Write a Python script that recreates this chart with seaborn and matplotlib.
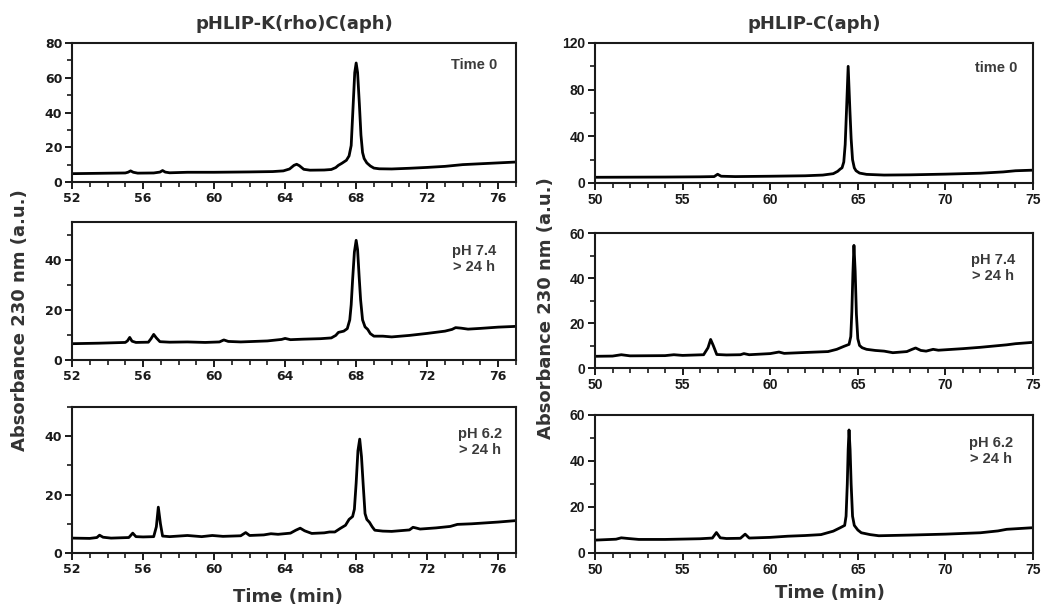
import matplotlib
matplotlib.use('Agg')
import matplotlib.pyplot as plt
import seaborn as sns
from matplotlib.ticker import MultipleLocator

# HPLC traces (time in min, absorbance in a.u.)
k_t0_time = [52, 53.5, 55.0, 55.15, 55.3, 55.45, 55.7, 56.6, 56.95, 57.1, 57.25, 57.5, 58.5, 60, 62,
             63.3, 63.9, 64.25, 64.5, 64.65, 64.8, 65.05, 65.4, 66.2, 66.6, 66.85, 67.0, 67.2, 67.45,
             67.6, 67.72, 67.82, 67.92, 68.0, 68.08, 68.18, 68.27, 68.36, 68.45, 68.6, 68.8, 69.0,
             69.3, 70.0, 71.0, 72.0, 73.0, 74.0, 75.0, 76.0, 77.0]
k_t0_abs = [4.8, 5.0, 5.2, 5.6, 6.4, 5.6, 5.1, 5.2, 5.7, 6.6, 5.7, 5.3, 5.6, 5.6, 5.8,
            6.0, 6.4, 7.5, 9.6, 10.2, 9.4, 7.3, 6.8, 6.9, 7.2, 8.3, 9.6, 10.8, 12.5,
            15, 21, 42, 63, 68.5, 63, 45, 27, 17, 13.5, 11, 9.2, 8.0,
            7.6, 7.5, 7.9, 8.4, 9.0, 10.0, 10.5, 11.0, 11.5]

k_74_time = [52, 53.5, 55.0, 55.12, 55.25, 55.38, 55.6, 56.3, 56.45, 56.6, 56.75, 56.95, 57.5, 58.5,
             59.5, 60.3, 60.55, 60.8, 61.5, 63.0, 63.8, 64.0, 64.3, 65.0, 66.0, 66.6, 66.85, 67.0,
             67.3, 67.5, 67.64, 67.72, 67.8, 67.9, 68.0, 68.08, 68.17, 68.25, 68.36, 68.5, 68.65,
             68.8, 69.0, 69.5, 70.0, 71.0, 72.0, 73.0, 73.4, 73.6, 73.9, 74.3, 75.0, 76.0, 77.0]
k_74_abs = [6.5, 6.7, 7.0, 7.6, 9.0, 7.5, 7.0, 7.1, 8.5, 10.2, 8.8, 7.3, 7.1, 7.2,
            7.0, 7.2, 8.0, 7.4, 7.2, 7.6, 8.2, 8.6, 8.1, 8.3, 8.5, 8.8, 9.8, 11.0,
            11.5, 12.5, 16, 22, 32, 43, 47.7, 44, 33, 24, 16, 13.2, 12.2,
            10.5, 9.5, 9.5, 9.2, 9.8, 10.6, 11.5, 12.2, 12.9, 12.7, 12.3, 12.6, 13.1, 13.4]

k_62_time = [52, 53.0, 53.4, 53.55, 53.75, 54.2, 55.2, 55.42, 55.6, 56.0, 56.6, 56.75, 56.86, 56.98,
             57.1, 57.5, 58.5, 59.3, 59.9, 60.5, 61.5, 61.78, 62.0, 62.8, 63.2, 63.6, 64.3, 64.6,
             64.85, 65.1, 65.5, 66.2, 66.5, 66.8, 67.1, 67.4, 67.6, 67.8, 67.9, 68.0, 68.1, 68.2,
             68.3, 68.4, 68.5, 68.6, 68.75, 68.9, 69.05, 69.5, 70.0, 71.0, 71.2, 71.35, 71.6, 72.5,
             73.3, 73.7, 74.5, 76.0, 77.0]
k_62_abs = [5.1, 5.0, 5.3, 6.1, 5.4, 5.1, 5.3, 6.8, 5.6, 5.5, 5.6, 9.0, 15.7, 10.0,
            5.8, 5.6, 6.0, 5.6, 6.0, 5.7, 5.9, 7.0, 6.0, 6.2, 6.6, 6.4, 6.8, 7.8,
            8.5, 7.6, 6.7, 6.9, 7.2, 7.2, 8.4, 9.5, 11.5, 12.5, 15, 24, 35, 39,
            33, 23, 13.5, 11.5, 10.5, 9.0, 7.8, 7.5, 7.4, 7.9, 8.8, 8.6, 8.2, 8.6,
            9.1, 9.8, 10.0, 10.6, 11.1]

c_t0_time = [50, 52, 54, 56, 56.8, 57.0, 57.2, 58.0, 60.0, 62.0, 63.0, 63.6, 63.85, 64.0, 64.1,
             64.2, 64.28, 64.35, 64.45, 64.55, 64.62, 64.7, 64.8, 64.9, 65.1, 65.5, 66.5, 68.0,
             70.0, 72.0, 73.3, 74.0, 75.0]
c_t0_abs = [4.9, 5.0, 5.1, 5.3, 5.5, 7.5, 5.8, 5.5, 5.8, 6.2, 6.8, 8.0, 10.0, 12.0, 13,
            18, 33, 60, 100, 62, 38, 20, 13, 10.5, 8.5, 7.4, 6.8, 7.0,
            7.6, 8.4, 9.5, 10.5, 11.0]

c_74_time = [50, 51.0, 51.5, 52.0, 54.0, 54.5, 55.0, 56.2, 56.45, 56.6, 56.75, 56.95, 57.5, 58.3,
             58.5, 58.8, 60.0, 60.5, 60.8, 62.0, 63.3, 63.8, 64.2, 64.5, 64.6, 64.66, 64.72, 64.78,
             64.85, 64.92, 65.0, 65.1, 65.25, 65.5, 66.0, 66.5, 67.0, 67.8, 68.1, 68.3, 68.6, 68.9,
             69.3, 69.6, 71.0, 72.0, 73.5, 74.0, 75.0]
c_74_abs = [5.2, 5.3, 5.9, 5.4, 5.5, 5.9, 5.6, 5.9, 9.0, 12.7, 10.0, 6.0, 5.8, 5.9,
            6.4, 5.9, 6.4, 7.1, 6.5, 6.9, 7.3, 8.3, 9.6, 10.5, 14, 25, 42, 54.5,
            43, 24, 13, 10, 9.0, 8.3, 7.8, 7.5, 6.8, 7.3, 8.3, 8.9, 7.8, 7.5,
            8.3, 7.9, 8.6, 9.2, 10.3, 10.8, 11.4]

c_62_time = [50, 51.2, 51.5, 51.9, 52.5, 54.0, 56.0, 56.7, 56.93, 57.15, 57.5, 58.3, 58.57, 58.8,
             60.0, 61.0, 62.0, 62.9, 63.6, 64.0, 64.25, 64.33, 64.4, 64.45, 64.5, 64.56, 64.62,
             64.7, 64.8, 65.0, 65.2, 65.7, 66.2, 68.0, 70.0, 72.0, 73.0, 73.5, 75.0]
c_62_abs = [5.6, 6.0, 6.6, 6.3, 5.9, 5.9, 6.2, 6.5, 8.9, 6.6, 6.3, 6.4, 8.2, 6.5,
            6.8, 7.3, 7.6, 8.0, 9.5, 11, 12, 16, 30, 45, 53.5, 45, 30,
            16, 12, 10, 8.8, 8.0, 7.5, 7.8, 8.2, 8.8, 9.6, 10.3, 11.0]

titles = ['pHLIP-K(rho)C(aph)', 'pHLIP-C(aph)']
left_notes = ['Time 0', 'pH 7.4\n> 24 h', 'pH 6.2\n> 24 h']
right_notes = ['time 0', 'pH 7.4\n> 24 h', 'pH 6.2\n> 24 h']

sns.set_style('ticks')
plt.rcParams['font.family'] = 'DejaVu Sans'
plt.rcParams['font.weight'] = 'bold'
plt.rcParams['axes.linewidth'] = 1.5
plt.rcParams['axes.edgecolor'] = '#1a1a1a'

W, H = 1053, 609
fig = plt.figure(figsize=(W / 100, H / 100), dpi=100)


def box(x0, x1, top, bottom):
    # pixel box -> figure fraction
    return [x0 / W, 1 - bottom / H, (x1 - x0) / W, (bottom - top) / H]


left_boxes = [box(72, 516, 43, 182), box(72, 516, 222, 360), box(72, 516, 407, 553)]
right_boxes = [box(595, 1033, 43, 183), box(595, 1033, 233, 368), box(595, 1033, 415, 553)]

left_data = [(k_t0_time, k_t0_abs), (k_74_time, k_74_abs), (k_62_time, k_62_abs)]
right_data = [(c_t0_time, c_t0_abs), (c_74_time, c_74_abs), (c_62_time, c_62_abs)]

left_ylims = [(0, 80, 20, 10), (0, 55, 20, 10), (0, 50, 20, 10)]
right_ylims = [(0, 120, 40, 20), (0, 60, 20, 10), (0, 60, 20, 10)]

note_pos_left = [(0.905, 0.84), (0.905, 0.73), (0.92, 0.76)]
note_pos_right = [(0.915, 0.825), (0.908, 0.74), (0.905, 0.74)]


def style_axis(ax, xlim, xmaj, ylim, family, size):
    ax.set_xlim(*xlim)
    ax.set_ylim(ylim[0], ylim[1])
    ax.xaxis.set_major_locator(MultipleLocator(xmaj))
    ax.xaxis.set_minor_locator(MultipleLocator(1))
    ax.yaxis.set_major_locator(MultipleLocator(ylim[2]))
    ax.yaxis.set_minor_locator(MultipleLocator(ylim[3]))
    ax.tick_params(which='major', direction='out', length=5, width=1.4, labelsize=size,
                   labelfontfamily=family, colors='#1a1a1a', pad=2)
    ax.tick_params(which='minor', direction='out', length=3.5, width=1.2, colors='#1a1a1a')
    ax.set_xlabel('')
    ax.set_ylabel('')
    for s in ax.spines.values():
        s.set_visible(True)


for i in range(3):
    ax = fig.add_axes(left_boxes[i])
    t, a = left_data[i]
    sns.lineplot(x=t, y=a, ax=ax, color='black', linewidth=2.0, estimator=None, sort=False)
    style_axis(ax, (52, 77), 4, left_ylims[i], 'DejaVu Sans', 9)
    ax.text(*note_pos_left[i], left_notes[i], transform=ax.transAxes, ha='center', va='center',
            family='Liberation Sans', fontsize=10.5, color='#3a3a3a', linespacing=1.2)

    ax = fig.add_axes(right_boxes[i])
    t, a = right_data[i]
    sns.lineplot(x=t, y=a, ax=ax, color='black', linewidth=2.0, estimator=None, sort=False)
    style_axis(ax, (50, 75), 5, right_ylims[i], 'Liberation Sans', 10)
    ax.text(*note_pos_right[i], right_notes[i], transform=ax.transAxes, ha='center', va='center',
            family='Liberation Sans', fontsize=10.5, color='#3a3a3a', linespacing=1.2)

# titles and shared axis labels
fig.text(294 / W, 1 - 24 / H, titles[0], ha='center', va='center', fontsize=13, color='#333333')
fig.text(814 / W, 1 - 24 / H, titles[1], ha='center', va='center', fontsize=13, color='#333333')
fig.text(20 / W, 1 - 320 / H, 'Absorbance 230 nm (a.u.)', rotation=90, ha='center', va='center',
         fontsize=13, color='#333333')
fig.text(546 / W, 1 - 308 / H, 'Absorbance 230 nm (a.u.)', rotation=90, ha='center', va='center',
         fontsize=13, color='#333333')
fig.text(288 / W, 1 - 597 / H, 'Time (min)', ha='center', va='center', fontsize=13, color='#333333')
fig.text(830 / W, 1 - 593 / H, 'Time (min)', ha='center', va='center', fontsize=13, color='#333333')

fig.savefig('out.png', dpi=100)
